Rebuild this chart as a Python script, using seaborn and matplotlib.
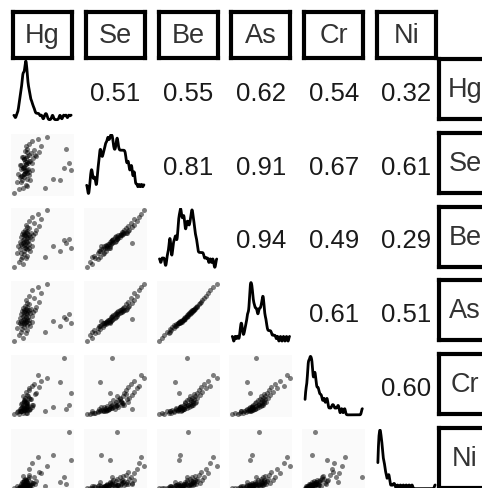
import numpy as np
import pandas as pd
import seaborn as sns
import matplotlib.pyplot as plt

sns.set_theme(style="white")
plt.rcParams['font.family'] = ['Liberation Sans', 'DejaVu Sans']

elements = ["Hg", "Se", "Be", "As", "Cr", "Ni"]

# values read (roughly) off the scatter panels, one entry per sample
hg = [18, 30, 25, 34, 27, 36, 29, 22, 32, 40, 28, 35, 31, 26, 38, 33, 29, 34, 24, 42,
      31, 27, 36, 33, 30, 39, 31, 35, 26, 37, 34, 30, 43, 32, 36, 28, 40, 34, 31, 37,
      44, 33, 29, 38, 35, 32, 46, 34, 41, 30, 36, 48, 33, 39, 35, 52, 34, 45, 38, 55,
      42, 50, 62, 85, 92, 95, 80, 88, 60, 70]
se = [6, 14, 12, 20, 25, 18, 28, 24, 32, 27, 35, 30, 38, 33, 36, 40, 34, 42, 37, 44,
      38, 46, 40, 42, 48, 41, 50, 44, 52, 46, 54, 48, 56, 50, 58, 52, 60, 54, 62, 56,
      64, 58, 66, 60, 68, 62, 70, 64, 72, 66, 74, 68, 76, 70, 80, 74, 84, 78, 88, 84,
      92, 96, 100, 48, 56, 45, 28, 80, 15, 30]
be = [8, 12, 15, 22, 20, 25, 24, 30, 28, 33, 30, 35, 33, 36, 38, 37, 40, 38, 41, 40,
      42, 43, 41, 44, 45, 43, 46, 47, 46, 49, 48, 50, 52, 51, 53, 55, 54, 56, 57, 55,
      58, 57, 59, 58, 60, 59, 61, 62, 61, 63, 64, 65, 66, 68, 70, 72, 74, 76, 79, 82,
      86, 90, 96, 50, 52, 38, 32, 45, 24, 40]
as_ = [5, 10, 14, 18, 20, 22, 25, 27, 28, 30, 31, 32, 33, 34, 34, 35, 35, 36, 36, 37,
       37, 38, 38, 39, 40, 40, 41, 42, 43, 44, 45, 46, 47, 48, 49, 50, 51, 52, 53, 53,
       54, 55, 55, 56, 56, 57, 57, 58, 59, 60, 61, 62, 64, 66, 68, 70, 73, 76, 80, 85,
       90, 95, 100, 45, 50, 35, 30, 42, 20, 38]
cr = [3, 5, 4, 6, 8, 5, 9, 7, 10, 12, 8, 11, 14, 9, 13, 10, 15, 12, 8, 16,
      11, 14, 18, 12, 20, 10, 15, 22, 13, 17, 25, 14, 19, 28, 16, 21, 30, 18, 24, 35,
      20, 27, 22, 32, 19, 26, 38, 23, 29, 34, 25, 40, 31, 45, 36, 50, 42, 55, 48, 60,
      52, 70, 65, 100, 20, 40, 58, 12, 8, 15]
ni = [1, 2, 1, 3, 2, 4, 2, 5, 3, 6, 2, 4, 7, 3, 5, 8, 4, 6, 2, 10,
      5, 3, 7, 4, 9, 3, 6, 12, 5, 8, 4, 11, 6, 15, 7, 9, 5, 13, 8, 18,
      10, 6, 12, 20, 7, 14, 9, 16, 11, 22, 8, 13, 18, 25, 10, 30, 15, 20, 35, 28,
      45, 55, 40, 20, 100, 50, 12, 8, 5, 60]

# correlations printed in the upper triangle, row by row
corr_labels = ["0.51", "0.55", "0.62", "0.54", "0.32",
               "0.81", "0.91", "0.67", "0.61",
               "0.94", "0.49", "0.29",
               "0.61", "0.51",
               "0.60"]

df = pd.DataFrame(dict(zip(elements, [hg, se, be, as_, cr, ni])))

W, H = 482, 489
fig = plt.figure(figsize=(W / 100, H / 100), dpi=100)


def box(x, y, w, h):
    return [x / W, 1 - (y + h) / H, w / W, h / H]


def bare(ax):
    ax.set_xticks([])
    ax.set_yticks([])
    ax.set_xlabel("")
    ax.set_ylabel("")
    for s in ax.spines.values():
        s.set_visible(False)


col_x = [11 + 72.8 * i for i in range(6)]
row_y = [61 + 73.8 * i for i in range(6)]
cw, rh = 63, 62

k = 0
for i, yv in enumerate(elements):
    for j, xv in enumerate(elements):
        ax = fig.add_axes(box(col_x[j], row_y[i], cw, rh))
        if i > j:
            ax.set_facecolor("#fafafa")
            sns.scatterplot(data=df, x=xv, y=yv, ax=ax, color="black", alpha=0.5,
                            s=13, linewidth=0, legend=False)
            xr = df[xv].max() - df[xv].min()
            yr = df[yv].max() - df[yv].min()
            ax.set_xlim(df[xv].min() - 0.05 * xr, df[xv].max() + 0.05 * xr)
            ax.set_ylim(df[yv].min() - 0.05 * yr, df[yv].max() + 0.05 * yr)
        elif i == j:
            sns.kdeplot(data=df, x=xv, ax=ax, bw_adjust=0.17, cut=0,
                        color="black", lw=2)
            yd = ax.lines[0].get_ydata()
            yr = yd.max() - yd.min()
            ax.set_ylim(yd.min() - 0.04 * yr, yd.max() + 0.02 * yr)
            xr = df[xv].max() - df[xv].min()
            ax.set_xlim(df[xv].min() - 0.05 * xr, df[xv].max() + 0.05 * xr)
        else:
            ax.text(0.5, 0.47, corr_labels[k], ha="center", va="center",
                    fontsize=18.5, color="#1a1a1a", transform=ax.transAxes)
            k += 1
        bare(ax)

# top strips
for j, name in enumerate(elements):
    ax = fig.add_axes(box(col_x[j] + 2, 13, cw - 4, 46))
    ax.set_xticks([])
    ax.set_yticks([])
    for s in ax.spines.values():
        s.set_linewidth(3)
        s.set_color("black")
    ax.text(0.5, 0.5, name, ha="center", va="center", fontsize=19.5,
            color="#333333", transform=ax.transAxes)

# right strips (partly outside the canvas)
for i, name in enumerate(elements):
    ax = fig.add_axes(box(439, row_y[i] - 1, 52, 60))
    ax.set_xticks([])
    ax.set_yticks([])
    for s in ax.spines.values():
        s.set_linewidth(3)
        s.set_color("black")
    ax.text(0.5, 0.5, name, ha="center", va="center", fontsize=19.5,
            color="#333333", transform=ax.transAxes)

fig.savefig("out.png", dpi=100)
